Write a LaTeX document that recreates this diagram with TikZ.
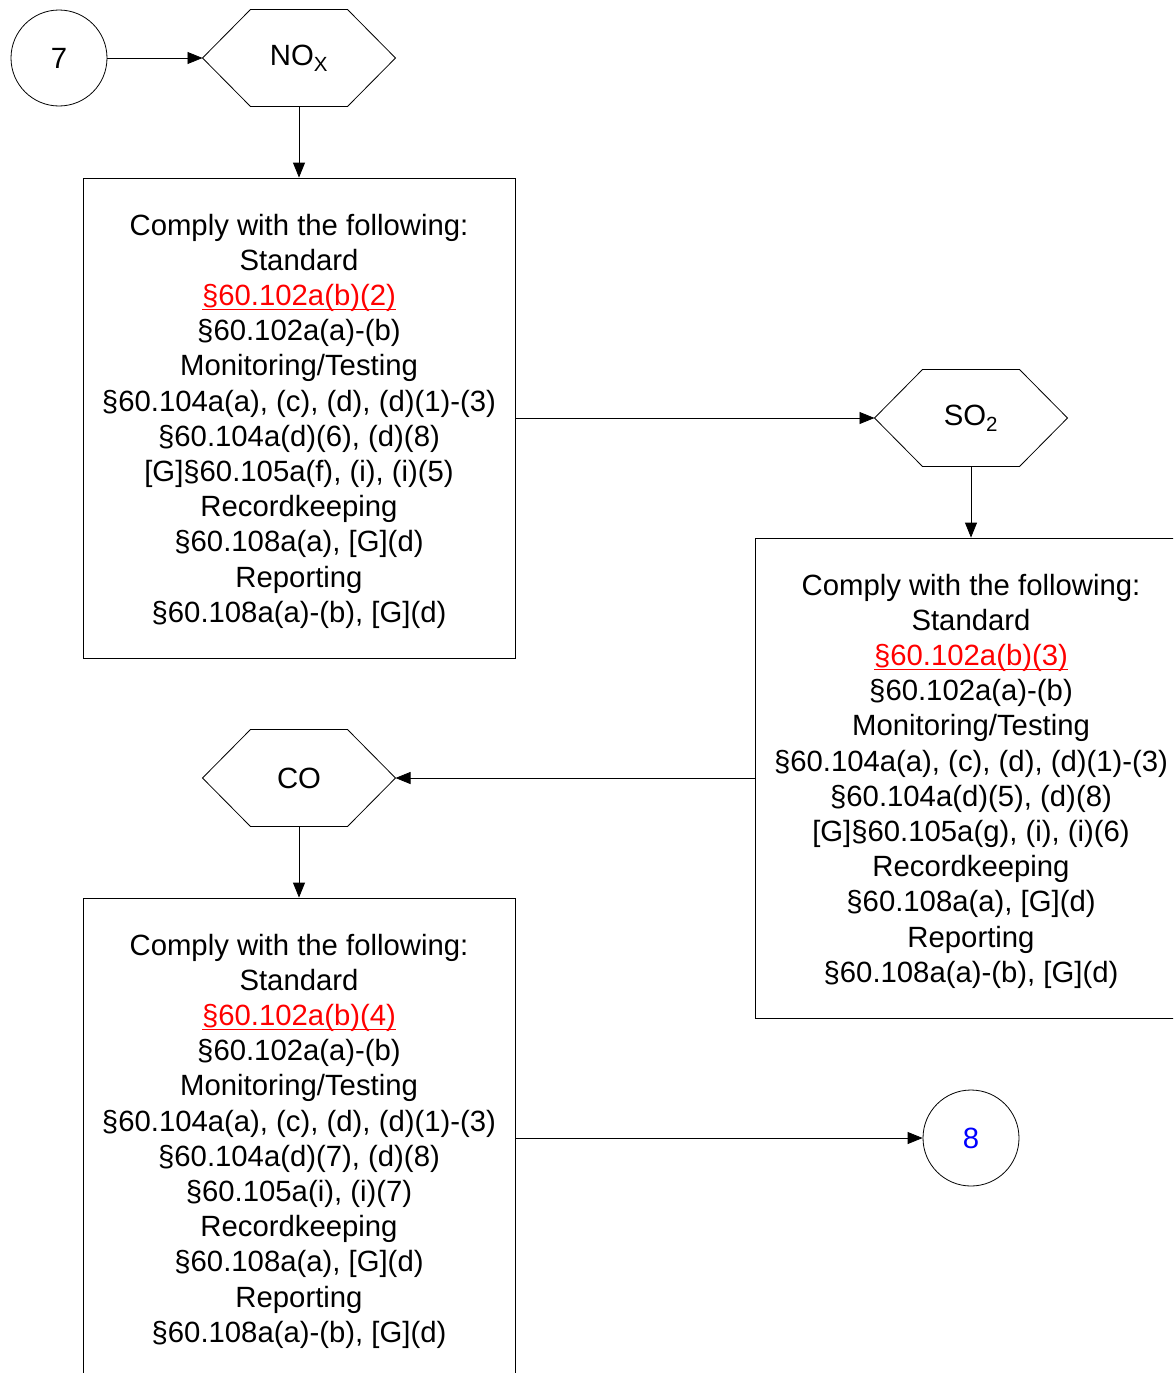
\documentclass[tikz,border=0pt]{standalone}
\usepackage{fontspec}
\setmainfont{Liberation Sans}
\usetikzlibrary{arrows.meta}
\definecolor{linkred}{RGB}{255,0,0}
\definecolor{numblue}{RGB}{0,0,255}
\newcommand{\lnk}[1]{\textcolor{linkred}{\setbox0\hbox{#1}\rlap{\rule[-5pt]{\wd0}{1.8pt}}\box0}}
\tikzset{
  base/.style={font=\fontsize{29.3}{35.2}\selectfont, line width=1pt},
  conn/.style={draw, circle, minimum size=96pt, inner sep=0pt, line width=0.8pt},
  hexa/.style={rectangle, minimum width=192pt, minimum height=96pt, inner sep=0pt},
  box/.style={draw, rectangle, minimum width=432pt, minimum height=480pt, inner sep=0pt, align=center, text depth=0pt, line width=0.8pt},
  arr/.style={-{Triangle[length=15pt,width=12pt]}, line width=0.8pt},
}
\newcommand{\hexdraw}[1]{%
  \draw[line width=0.8pt] (#1.west) -- ([xshift=48pt]#1.north west) -- ([xshift=-48pt]#1.north east) -- (#1.east) -- ([xshift=-48pt]#1.south east) -- ([xshift=48pt]#1.south west) -- cycle;}
\begin{document}
\begin{tikzpicture}[x=1pt, y=-1pt, base]
\clip (0,0) rectangle (1173,1373);
\fill[white] (0,0) rectangle (1173,1373);
\node[conn] (c7) at (59,58) {7};
\node[hexa] (nox) at (299,58) {NO\textsubscript{X}};
\hexdraw{nox}
\node[box] (b1) at (299,418) {Comply with the following:\\Standard\\\lnk{§60.102a(b)(2)}\\§60.102a(a)-(b)\\Monitoring/Testing\\§60.104a(a), (c), (d), (d)(1)-(3)\\§60.104a(d)(6), (d)(8)\\{[G]}§60.105a(f), (i), (i)(5)\\Recordkeeping\\§60.108a(a), [G](d)\\Reporting\\§60.108a(a)-(b), [G](d)};
\node[hexa] (so2) at (971,418) {SO\textsubscript{2}};
\hexdraw{so2}
\node[box] (b2) at (971,778) {Comply with the following:\\Standard\\\lnk{§60.102a(b)(3)}\\§60.102a(a)-(b)\\Monitoring/Testing\\§60.104a(a), (c), (d), (d)(1)-(3)\\§60.104a(d)(5), (d)(8)\\{[G]}§60.105a(g), (i), (i)(6)\\Recordkeeping\\§60.108a(a), [G](d)\\Reporting\\§60.108a(a)-(b), [G](d)};
\node[hexa] (co) at (299,778) {CO};
\hexdraw{co}
\node[box] (b3) at (299,1138) {Comply with the following:\\Standard\\\lnk{§60.102a(b)(4)}\\§60.102a(a)-(b)\\Monitoring/Testing\\§60.104a(a), (c), (d), (d)(1)-(3)\\§60.104a(d)(7), (d)(8)\\§60.105a(i), (i)(7)\\Recordkeeping\\§60.108a(a), [G](d)\\Reporting\\§60.108a(a)-(b), [G](d)};
\node[conn, text=numblue] (c8) at (971,1138) {8};
\draw[arr] (c7) -- (nox.west);
\draw[arr] (nox.south) -- (b1.north);
\draw[arr] (b1.east) -- (so2.west);
\draw[arr] (so2.south) -- (b2.north);
\draw[arr] (b2.west) -- (co.east);
\draw[arr] (co.south) -- (b3.north);
\draw[arr] (b3.east) -- (c8.west);
\end{tikzpicture}
\end{document}
